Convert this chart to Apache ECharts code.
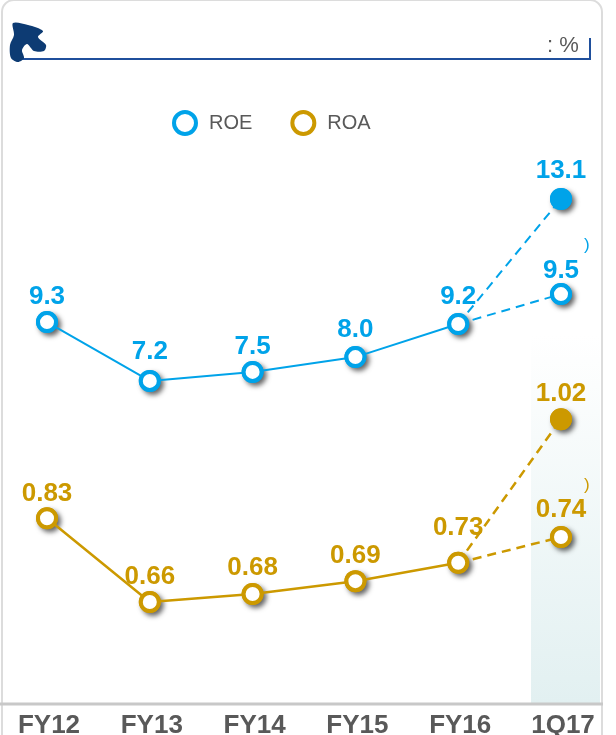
<!DOCTYPE html>
<html>
<head>
<meta charset="utf-8">
<title>ROE ROA</title>
<script src="https://cdn.jsdelivr.net/npm/echarts@6/dist/echarts.min.js"></script>
<style>
html,body{margin:0;padding:0;background:#fff}
#main{width:616px;height:735px}
</style>
</head>
<body>
<div id="main"></div>
<script>
var categories = ['FY12','FY13','FY14','FY15','FY16','1Q17'];

// printed numbers
var roeLabels = ['9.3','7.2','7.5','8.0','9.2','9.5'];
var roeTopLabel = '13.1';
var roaLabels = ['0.83','0.66','0.68','0.69','0.73','0.74'];
var roaTopLabel = '1.02';

// heights, the source does not draw them quite to scale
var roeHeights = [9.29,7.19,7.51,8.04,9.22,10.29];
var roeTopHeight = [null,null,null,null,null,13.69];
var roaHeights = [0.83,0.661,0.677,0.703,0.74,0.792];
var roaTopHeight = [null,null,null,null,null,1.03];

// label distance above the point
var roeLabelGap = [1,5,1,3,3,-1];
var roaLabelGap = [0,1,2,1,11,3];

var blue = '#00a3e9';
var gold = '#cc9900';
var grey = '#595959';
var fontName = '"Liberation Sans", Arial, sans-serif';

var myChart = echarts.init(document.getElementById('main'));

function ringStyle(color, filled){
	return {color: filled ? color : '#fff', borderColor: color, borderWidth: 4};
}

function pointLabel(text, color, gap){
	return {
		show: true,
		position: 'top',
		distance: gap,
		formatter: text,
		color: color,
		fontFamily: fontName,
		fontWeight: 'bold',
		fontSize: 26
	};
}

// solid part FY12-FY16
function solidSeries(name, heights, labels, gaps, color, width, axis){
	var data = [];
	for(var i=0;i<5;i++){
		data.push({
			value: heights[i],
			label: pointLabel(labels[i], color, gaps[i])
		});
	}
	data.push(null);
	return {
		name: name,
		type: 'line',
		yAxisIndex: axis,
		z: 5,
		symbol: 'circle',
		symbolSize: 18,
		lineStyle: {color: color, width: width},
		itemStyle: ringStyle(color, false),
		data: data
	};
}

// dashed part FY16-1Q17
function dashedSeries(name, from, to, text, gap, color, width, axis, filled){
	var data = [null,null,null,null,{value: from, symbol: 'none'},{
		value: to,
		label: pointLabel(text, color, gap),
		itemStyle: ringStyle(color, filled)
	}];
	return {
		name: name,
		type: 'line',
		yAxisIndex: axis,
		z: 4,
		symbol: 'circle',
		symbolSize: 18,
		lineStyle: {color: color, width: width, type: [9,6]},
		data: data
	};
}

// soft shadow under the markers, a stroked ring would throw it into its own hole
function shadowSeries(name, heights, color, axis){
	return {
		name: name,
		type: 'line',
		yAxisIndex: axis,
		z: 3,
		silent: true,
		symbol: 'circle',
		symbolSize: 22,
		lineStyle: {width: 0, opacity: 0},
		itemStyle: {
			color: color,
			shadowColor: 'rgba(0,0,0,0.6)',
			shadowBlur: 5,
			shadowOffsetX: 3,
			shadowOffsetY: 3
		},
		data: heights
	};
}

myChart.setOption({
	animation: false,
	textStyle: {fontFamily: fontName},
	legend: {
		left: 167,
		top: 105,
		itemWidth: 24,
		itemHeight: 22,
		itemGap: 38,
		icon: 'circle',
		data: ['ROE','ROA'],
		textStyle: {color: grey, fontSize: 20, fontFamily: fontName, padding: [0,0,0,7]},
		itemStyle: {color: '#fff', borderWidth: 4}
	},
	grid: {left: 47, right: 55, top: 60, bottom: 31, outerBoundsMode: 'none'},
	xAxis: {
		type: 'category',
		data: categories,
		boundaryGap: false,
		axisTick: {show: false},
		axisLine: {show: false},
		axisLabel: {
			color: grey,
			fontFamily: fontName,
			fontWeight: 'bold',
			fontSize: 26,
			margin: 9,
			padding: [0,0,0,4],
			interval: 0
		}
	},
	yAxis: [
		{type: 'value', show: false, min: -4.35, max: 18.65, splitLine: {show: false}},
		{type: 'value', show: false, min: 0.455, max: 1.755, splitLine: {show: false}}
	],
	graphic: [
		{type: 'rect', z: 0, shape: {x: 2, y: 0, width: 600, height: 760, r: 12},
			style: {fill: '#fff', stroke: '#dcdcdc', lineWidth: 2}},
		{type: 'rect', z: 1, shape: {x: 531, y: 335, width: 69, height: 368},
			style: {fill: new echarts.graphic.LinearGradient(0,0,0,1,[
				{offset: 0, color: '#ffffff'},
				{offset: 1, color: '#e2f0f1'}
			])}},
		{type: 'line', z: 2, shape: {x1: 0, y1: 704, x2: 603, y2: 704},
			style: {stroke: '#c8c8c8', lineWidth: 3}},
		{type: 'polyline', z: 2, shape: {points: [[22,59],[590,59],[590,38]]},
			style: {stroke: '#1f4f9c', lineWidth: 2, fill: null}},
		{type: 'polygon', z: 3, shape: {
				points: [[13,23],[28,25],[43,31],[38,37],[46,45],[44,51],[34,51],[27,44],[22,50],[24,58],[18,62],[11,58],[10,45],[14,35]],
				smooth: 0.3
			}, style: {fill: '#0d3b73'}},
		{type: 'text', z: 3, x: 547, y: 35, style: {text: ': %', fill: grey, font: '22px "Liberation Sans"'}},
		{type: 'text', z: 3, x: 584, y: 237, style: {text: ')', fill: blue, font: '17px "Liberation Sans"'}},
		{type: 'text', z: 3, x: 584, y: 477, style: {text: ')', fill: gold, font: '17px "Liberation Sans"'}}
	],
	color: [blue, gold],
	series: [
		shadowSeries('ROE shadow', roeHeights, blue, 0),
		shadowSeries('ROE top shadow', roeTopHeight, blue, 0),
		shadowSeries('ROA shadow', roaHeights, gold, 1),
		shadowSeries('ROA top shadow', roaTopHeight, gold, 1),
		dashedSeries('ROE annualized', roeHeights[4], roeTopHeight[5], roeTopLabel, 4, blue, 2, 0, true),
		dashedSeries('ROE reported', roeHeights[4], roeHeights[5], roeLabels[5], roeLabelGap[5], blue, 2, 0, false),
		dashedSeries('ROA annualized', roaHeights[4], roaTopHeight[5], roaTopLabel, 1, gold, 2.5, 1, true),
		dashedSeries('ROA reported', roaHeights[4], roaHeights[5], roaLabels[5], roaLabelGap[5], gold, 2.5, 1, false),
		solidSeries('ROE', roeHeights, roeLabels, roeLabelGap, blue, 2, 0),
		solidSeries('ROA', roaHeights, roaLabels, roaLabelGap, gold, 2.5, 1)
	]
});
</script>
</body>
</html>
